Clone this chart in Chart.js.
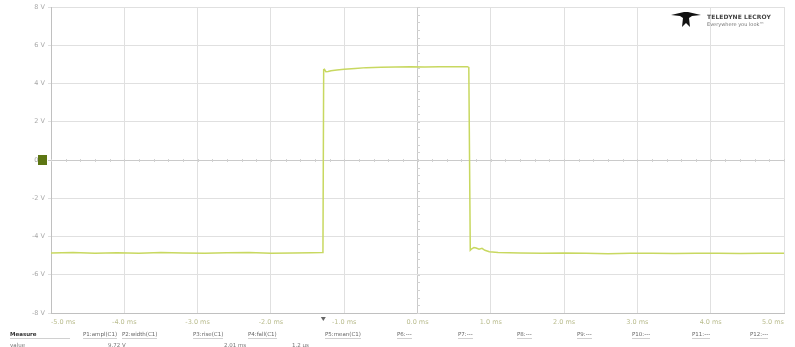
<!DOCTYPE html>
<html><head><meta charset="utf-8">
<script src="https://cdn.jsdelivr.net/npm/chart.js@4"></script>
<style>
html,body{margin:0;padding:0;background:#fff;}
#wrap{position:relative;width:795px;height:347px;overflow:hidden;font-family:'DejaVu Sans',sans-serif;}
#c{position:absolute;left:0;top:0;width:795px;height:347px;}
.logo{position:absolute;left:670px;top:11px;width:110px;height:20px;}
.logo .t1{position:absolute;left:37px;top:2px;font-size:6px;font-weight:bold;color:#444;letter-spacing:0.1px;white-space:nowrap;}
.logo .t2{position:absolute;left:37px;top:10px;font-size:5px;color:#777;white-space:nowrap;}
.meas{position:absolute;font-size:5.5px;color:#666;white-space:nowrap;border-bottom:1px solid #d0d0d0;padding-bottom:1px;}
.meas.h{font-weight:bold;color:#333;}
.val{position:absolute;font-size:5.5px;color:#777;white-space:nowrap;}
</style></head>
<body>
<div id="wrap">
<canvas id="c" width="795" height="347"></canvas>
<div class="logo">
<svg width="32" height="18" viewBox="0 0 32 18" style="position:absolute;left:0;top:0">
<path d="M1 4 L14 1 L18 1 L31 4 L22 5 L19 7 L20 16 L16 12 L12 16 L13 7 L10 5 Z" fill="#111"/>
</svg>
<div class="t1">TELEDYNE LECROY</div>
<div class="t2">Everywhere you look™</div>
</div>
<div id="mrow"></div>
</div>
<script>
// ---- data ----
const timeMs = [-5.00,-4.70,-4.40,-4.10,-3.80,-3.50,-3.20,-2.90,-2.60,-2.30,-2.00,-1.70,-1.45,-1.30,-1.29,-1.28,-1.27,-1.25,-1.22,-1.18,-1.10,-1.00,-0.85,-0.70,-0.50,-0.30,-0.10,0.10,0.30,0.50,0.68,0.70,0.72,0.74,0.77,0.80,0.84,0.88,0.92,0.98,1.10,1.40,1.70,2.00,2.30,2.60,2.90,3.20,3.50,3.80,4.10,4.40,4.70,5.00];
const voltsC1 = [-4.86,-4.84,-4.88,-4.85,-4.87,-4.84,-4.86,-4.88,-4.85,-4.84,-4.87,-4.86,-4.85,-4.84,-4.76,4.72,4.74,4.62,4.63,4.67,4.70,4.74,4.79,4.83,4.85,4.86,4.87,4.86,4.88,4.87,4.88,4.84,-4.72,-4.64,-4.58,-4.60,-4.66,-4.62,-4.72,-4.80,-4.84,-4.86,-4.88,-4.86,-4.87,-4.90,-4.88,-4.87,-4.89,-4.88,-4.87,-4.89,-4.88,-4.88];
const xTickLabels = ["-5.0 ms","-4.0 ms","-3.0 ms","-2.0 ms","-1.0 ms","0.0 ms","1.0 ms","2.0 ms","3.0 ms","4.0 ms","5.0 ms"];
const yTickLabels = ["-8 V","-6 V","-4 V","-2 V","0 V","2 V","4 V","6 V","8 V"];
const triggerTime = -1.285;
const channelOffset = 0;
const measureLabels = ["P1:ampl(C1)","P2:width(C1)","P3:rise(C1)","P4:fall(C1)","P5:mean(C1)","P6:---","P7:---","P8:---","P9:---","P10:---","P11:---","P12:---"];
const measureValues = ["9.72 V","","2.01 ms","","1.2 µs"];

// ---- measure row (HTML) ----
const mLeft = [83,122,193,248,325,397,458,517,577,632,692,750];
const mrow = document.getElementById('mrow');
let h = '<div class="meas h" style="left:10px;top:331px;width:60px">Measure</div>';
measureLabels.forEach((s,i)=>{ h += `<div class="meas" style="left:${mLeft[i]}px;top:331px">${s}</div>`; });
h += '<div class="val" style="left:10px;top:342px">value</div>';
const vLeft = [108,160,224,262,292];
measureValues.forEach((s,i)=>{ if(s) h += `<div class="val" style="left:${vLeft[i]}px;top:342px">${s}</div>`; });
mrow.innerHTML = h;

// ---- chart ----
const scopeDecor = {
  id:'scopeDecor',
  beforeDatasetsDraw(chart){
    const {ctx, chartArea:a, scales:{x,y}} = chart;
    ctx.save();
    ctx.strokeStyle = '#d2d2d2'; ctx.lineWidth = 1;
    const cx = Math.round(x.getPixelForValue(0))+0.5, cy = Math.round(y.getPixelForValue(0))+0.5;
    ctx.beginPath();
    for (let v=-5; v<=5.001; v+=0.2){
      const px = Math.round(x.getPixelForValue(v))+0.5;
      ctx.moveTo(px, cy-1.5); ctx.lineTo(px, cy+1.5);
    }
    for (let v=-8; v<=8.001; v+=0.4){
      const py = Math.round(y.getPixelForValue(v))+0.5;
      ctx.moveTo(cx-1.5, py); ctx.lineTo(cx+1.5, py);
    }
    ctx.stroke();
    ctx.restore();
  },
  afterDraw(chart){
    const {ctx, chartArea:a, scales:{x,y}} = chart;
    ctx.save();
    const my = y.getPixelForValue(channelOffset);
    ctx.fillStyle = '#5d7613';
    ctx.fillRect(38, my-5, 9, 10);
    const tx = x.getPixelForValue(triggerTime);
    ctx.fillStyle = '#666';
    ctx.beginPath();
    ctx.moveTo(tx-2.5, a.bottom+4); ctx.lineTo(tx+2.5, a.bottom+4); ctx.lineTo(tx, a.bottom+8); ctx.closePath();
    ctx.fill();
    ctx.restore();
  }
};

new Chart(document.getElementById('c'), {
  type:'scatter',
  data:{ datasets:[{
    data: timeMs.map((t,i)=>({x:t, y:voltsC1[i]})),
    showLine:true, borderColor:'#c8d860', borderWidth:1.5, pointRadius:0, tension:0
  }]},
  options:{
    responsive:false, animation:false,
    layout:{padding:{top:7,right:11,left:0,bottom:0}},
    plugins:{legend:{display:false}, tooltip:{enabled:false}},
    scales:{
      x:{
        type:'linear', min:-5, max:5,
        afterFit(s){ s.height = 34; },
        border:{display:true, color:'#c0c0c0'},
        grid:{color:(c)=> c.tick && c.tick.value===0 ? '#cacaca' : '#e0e0e0', drawTicks:false},
        ticks:{stepSize:1, align:'inner', padding:5, color:'#b9bc8e', font:{family:'DejaVu Sans', size:6.5},
          maxRotation:0, autoSkip:false,
          callback:(v)=> xTickLabels[Math.round(v+5)]}
      },
      y:{
        min:-8, max:8,
        afterFit(s){ s.width = 51; },
        border:{display:true, color:'#c0c0c0'},
        grid:{color:(c)=> c.tick && c.tick.value===0 ? '#cacaca' : '#e0e0e0', drawTicks:true, tickLength:3},
        ticks:{stepSize:2, padding:3, color:'#a8a8a8', font:{family:'DejaVu Sans', size:6.5},
          callback:(v)=> yTickLabels[Math.round(v/2+4)]}
      }
    }
  },
  plugins:[scopeDecor]
});
</script>
</body></html>
